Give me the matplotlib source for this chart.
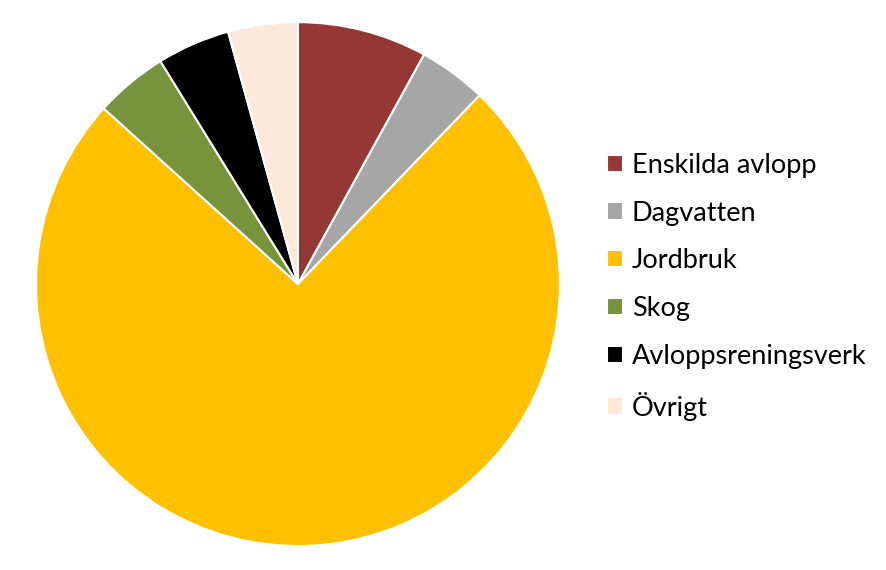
import matplotlib.pyplot as plt

kategorier = ['Enskilda avlopp', 'Dagvatten', 'Jordbruk', 'Skog',
              'Avloppsreningsverk', 'Övrigt']
andel = [8.0, 4.2, 74.5, 4.5, 4.5, 4.3]
farger = ['#953735', '#A6A6A6', '#FFC000', '#77933C', '#000000', '#FDE9D9']

plt.rcParams['font.family'] = ['Lato', 'DejaVu Sans']

fig = plt.figure(figsize=(8.86, 5.70), dpi=100)
ax = fig.add_axes([0.0406, 0.0421, 0.5914, 0.919])

wedges, _ = ax.pie(andel, colors=farger, startangle=90, counterclock=False,
                   wedgeprops=dict(edgecolor='white', linewidth=1.5))
ax.set_xlim(-1, 1)
ax.set_ylim(-1, 1)
ax.set_aspect('equal')

fig.legend(wedges, kategorier, loc='center left',
           bbox_to_anchor=(0.6726, 0.497), frameon=False,
           fontsize=19.5, handlelength=0.6, handleheight=0.6,
           handletextpad=0.33, labelspacing=0.84, borderaxespad=0)

fig.savefig('out.png', dpi=100)
